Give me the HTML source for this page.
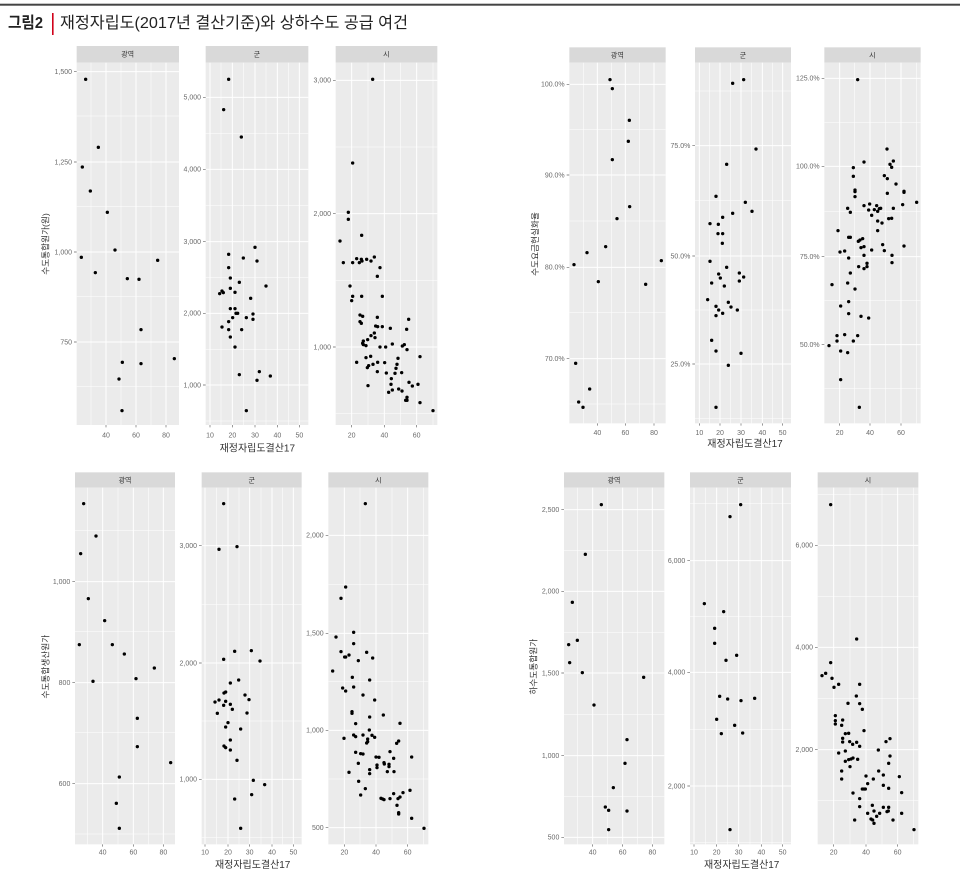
<!DOCTYPE html>
<html><head><meta charset="utf-8"><style>
html,body{margin:0;padding:0;background:#fff;}
svg{display:block;}
text{font-family:"Liberation Sans","Noto Sans CJK KR",sans-serif;}
.tl{font-size:21px;fill:#6a6a6a;text-anchor:end;}
.xl{font-size:21px;fill:#6a6a6a;text-anchor:middle;}
.st{font-size:21px;fill:#333;text-anchor:middle;}
.at{font-size:30px;fill:#333;text-anchor:middle;}
.yt{font-size:26px;fill:#333;text-anchor:middle;}
.mj{stroke:#fff;stroke-width:3;fill:none;}
.mn{stroke:#fff;stroke-width:1.6;fill:none;}
.tk{stroke:#666;stroke-width:2;fill:none;}
.sp{fill:#d9d9d9;}
.pn{fill:#ebebeb;}
</style></head><body>
<svg width="960" height="873" viewBox="0 0 960 873" xmlns="http://www.w3.org/2000/svg">
<rect x="0" y="0" width="960" height="873" fill="#fff"/>
<rect x="0" y="3.7" width="960" height="2" fill="#444"/>
<rect x="52" y="13" width="1.6" height="22" fill="#d0021b"/>
<text x="8" y="28" font-size="16" font-weight="bold" fill="#222" textLength="35" lengthAdjust="spacingAndGlyphs">그림2</text>
<text x="60" y="28" font-size="16" fill="#222" textLength="348" lengthAdjust="spacingAndGlyphs">재정자립도(2017년 결산기준)와 상하수도 공급 여건</text>

<!-- FIGURE A -->
<g transform="translate(30,40) scale(0.333333)">
<!-- A1 -->
<rect class="sp" x="140" y="18" width="307" height="50"/>
<text class="st" x="293" y="50">광역</text>
<rect class="pn" x="140" y="68" width="307" height="1087"/>
<path class="mn" d="M140 228H447M140 500H447M140 770H447M140 1040H447M183 68V1155M273 68V1155M363 68V1155"/>
<path class="mj" d="M140 95H447M140 366H447M140 636H447M140 906H447M228 68V1155M318 68V1155M408 68V1155"/>
<path class="tk" d="M132 95H140M132 366H140M132 636H140M132 906H140M228 1155V1162M318 1155V1162M408 1155V1162"/>
<text class="tl" x="126" y="102">1,500</text><text class="tl" x="126" y="373">1,250</text><text class="tl" x="126" y="643">1,000</text><text class="tl" x="126" y="913">750</text>
<text class="xl" x="228" y="1193">40</text><text class="xl" x="318" y="1193">60</text><text class="xl" x="408" y="1193">80</text>
<g fill="#000">
<circle cx="167" cy="118" r="5"/><circle cx="157" cy="381" r="5"/><circle cx="205" cy="322" r="5"/><circle cx="181" cy="453" r="5"/><circle cx="232" cy="517" r="5"/><circle cx="154" cy="652" r="5"/><circle cx="255" cy="630" r="5"/><circle cx="196" cy="698" r="5"/><circle cx="292" cy="716" r="5"/><circle cx="327" cy="718" r="5"/><circle cx="383" cy="661" r="5"/><circle cx="333" cy="869" r="5"/><circle cx="277" cy="967" r="5"/><circle cx="333" cy="971" r="5"/><circle cx="433" cy="956" r="5"/><circle cx="267" cy="1017" r="5"/><circle cx="276" cy="1112" r="5"/>
</g>
<!-- A2 -->
<rect class="sp" x="527" y="18" width="308" height="50"/>
<text class="st" x="681" y="50">군</text>
<rect class="pn" x="527" y="68" width="308" height="1087"/>
<path class="mn" d="M527 280H835M527 497H835M527 712H835M527 928H835M527 1143H835M573 68V1155M641 68V1155M708 68V1155M775 68V1155"/>
<path class="mj" d="M527 172H835M527 388H835M527 605H835M527 820H835M527 1035H835M540 68V1155M607 68V1155M675 68V1155M742 68V1155M808 68V1155"/>
<path class="tk" d="M519 172H527M519 388H527M519 605H527M519 820H527M519 1035H527M540 1155V1162M607 1155V1162M675 1155V1162M742 1155V1162M808 1155V1162"/>
<text class="tl" x="513" y="179">5,000</text><text class="tl" x="513" y="395">4,000</text><text class="tl" x="513" y="612">3,000</text><text class="tl" x="513" y="827">2,000</text><text class="tl" x="513" y="1042">1,000</text>
<text class="xl" x="540" y="1193">10</text><text class="xl" x="607" y="1193">20</text><text class="xl" x="675" y="1193">30</text><text class="xl" x="742" y="1193">40</text><text class="xl" x="808" y="1193">50</text>
<g fill="#000">
<circle cx="596" cy="118" r="5"/><circle cx="581" cy="209" r="5"/><circle cx="634" cy="291" r="5"/><circle cx="675" cy="622" r="5"/><circle cx="596" cy="643" r="5"/><circle cx="640" cy="654" r="5"/><circle cx="681" cy="663" r="5"/><circle cx="596" cy="683" r="5"/><circle cx="601" cy="714" r="5"/><circle cx="628" cy="727" r="5"/><circle cx="708" cy="738" r="5"/><circle cx="569" cy="761" r="5"/><circle cx="576" cy="753" r="5"/><circle cx="580" cy="758" r="5"/><circle cx="601" cy="745" r="5"/><circle cx="615" cy="757" r="5"/><circle cx="662" cy="775" r="5"/><circle cx="601" cy="806" r="5"/><circle cx="615" cy="806" r="5"/><circle cx="618" cy="820" r="5"/><circle cx="623" cy="820" r="5"/><circle cx="669" cy="822" r="5"/><circle cx="608" cy="833" r="5"/><circle cx="649" cy="833" r="5"/><circle cx="669" cy="838" r="5"/><circle cx="596" cy="845" r="5"/><circle cx="576" cy="861" r="5"/><circle cx="596" cy="869" r="5"/><circle cx="635" cy="869" r="5"/><circle cx="601" cy="891" r="5"/><circle cx="615" cy="921" r="5"/><circle cx="628" cy="1004" r="5"/><circle cx="688" cy="995" r="5"/><circle cx="681" cy="1021" r="5"/><circle cx="721" cy="1008" r="5"/><circle cx="649" cy="1112" r="5"/>
</g>
<!-- A3 -->
<rect class="sp" x="917" y="18" width="305" height="50"/>
<text class="st" x="1069" y="50">시</text>
<rect class="pn" x="917" y="68" width="305" height="1087"/>
<path class="mn" d="M917 321H1222M917 721H1222M917 1121H1222M1014 68V1155M1111 68V1155M1209 68V1155"/>
<path class="mj" d="M917 121H1222M917 521H1222M917 921H1222M965 68V1155M1063 68V1155M1160 68V1155"/>
<path class="tk" d="M909 121H917M909 521H917M909 921H917M965 1155V1162M1063 1155V1162M1160 1155V1162"/>
<text class="tl" x="903" y="128">3,000</text><text class="tl" x="903" y="528">2,000</text><text class="tl" x="903" y="928">1,000</text>
<text class="xl" x="965" y="1193">20</text><text class="xl" x="1063" y="1193">40</text><text class="xl" x="1160" y="1193">60</text>
<g fill="#000">
<circle cx="1028" cy="118" r="5"/><circle cx="968" cy="369" r="5"/><circle cx="955" cy="517" r="5"/><circle cx="955" cy="538" r="5"/><circle cx="995" cy="586" r="5"/><circle cx="930" cy="603" r="5"/><circle cx="940" cy="668" r="5"/><circle cx="968" cy="668" r="5"/><circle cx="980" cy="656" r="5"/><circle cx="988" cy="668" r="5"/><circle cx="996" cy="663" r="5"/><circle cx="994" cy="658" r="5"/><circle cx="1010" cy="658" r="5"/><circle cx="1023" cy="663" r="5"/><circle cx="1033" cy="651" r="5"/><circle cx="1050" cy="683" r="5"/><circle cx="1042" cy="709" r="5"/><circle cx="960" cy="738" r="5"/><circle cx="968" cy="769" r="5"/><circle cx="965" cy="782" r="5"/><circle cx="995" cy="769" r="5"/><circle cx="1057" cy="769" r="5"/><circle cx="990" cy="825" r="5"/><circle cx="998" cy="829" r="5"/><circle cx="990" cy="845" r="5"/><circle cx="994" cy="850" r="5"/><circle cx="1042" cy="832" r="5"/><circle cx="1037" cy="858" r="5"/><circle cx="1043" cy="860" r="5"/><circle cx="1057" cy="860" r="5"/><circle cx="1081" cy="865" r="5"/><circle cx="1136" cy="838" r="5"/><circle cx="1130" cy="868" r="5"/><circle cx="1033" cy="879" r="5"/><circle cx="1023" cy="887" r="5"/><circle cx="1013" cy="899" r="5"/><circle cx="1000" cy="903" r="5"/><circle cx="1000" cy="914" r="5"/><circle cx="998" cy="910" r="5"/><circle cx="1008" cy="917" r="5"/><circle cx="1035" cy="893" r="5"/><circle cx="1050" cy="921" r="5"/><circle cx="1067" cy="921" r="5"/><circle cx="1087" cy="912" r="5"/><circle cx="1117" cy="918" r="5"/><circle cx="1123" cy="914" r="5"/><circle cx="1131" cy="929" r="5"/><circle cx="1022" cy="949" r="5"/><circle cx="1008" cy="953" r="5"/><circle cx="980" cy="967" r="5"/><circle cx="1029" cy="973" r="5"/><circle cx="1016" cy="977" r="5"/><circle cx="1043" cy="967" r="5"/><circle cx="1064" cy="968" r="5"/><circle cx="1104" cy="955" r="5"/><circle cx="1101" cy="973" r="5"/><circle cx="1098" cy="985" r="5"/><circle cx="1115" cy="998" r="5"/><circle cx="1069" cy="999" r="5"/><circle cx="1042" cy="995" r="5"/><circle cx="1012" cy="983" r="5"/><circle cx="1170" cy="950" r="5"/><circle cx="1095" cy="1000" r="5"/><circle cx="1084" cy="1016" r="5"/><circle cx="1083" cy="1033" r="5"/><circle cx="1076" cy="1057" r="5"/><circle cx="1087" cy="1050" r="5"/><circle cx="1106" cy="1047" r="5"/><circle cx="1116" cy="1053" r="5"/><circle cx="1137" cy="1027" r="5"/><circle cx="1147" cy="1038" r="5"/><circle cx="1164" cy="1033" r="5"/><circle cx="1131" cy="1072" r="5"/><circle cx="1127" cy="1081" r="5"/><circle cx="1131" cy="1081" r="5"/><circle cx="1170" cy="1088" r="5"/><circle cx="1209" cy="1112" r="5"/><circle cx="1014" cy="1037" r="5"/>
</g>
<text class="at" x="682" y="1234">재정자립도결산17</text>
<text class="yt" transform="translate(55,612) rotate(-90)">수도통합원가(원)</text>
</g>

<!-- FIGURE B -->
<g transform="translate(500,40) scale(0.333333)">
<!-- B1 -->
<rect class="sp" x="208" y="22" width="289" height="46"/>
<text class="st" x="352" y="52">광역</text>
<rect class="pn" x="208" y="68" width="289" height="1082"/>
<path class="mn" d="M208 268H497M208 543H497M208 818H497M208 1092H497M250 68V1150M334 68V1150M419 68V1150"/>
<path class="mj" d="M208 133H497M208 405H497M208 682H497M208 956H497M292 68V1150M376 68V1150M462 68V1150"/>
<path class="tk" d="M200 133H208M200 405H208M200 682H208M200 956H208M292 1150V1157M376 1150V1157M462 1150V1157"/>
<text class="tl" x="194" y="140">100.0%</text><text class="tl" x="194" y="412">90.0%</text><text class="tl" x="194" y="689">80.0%</text><text class="tl" x="194" y="963">70.0%</text>
<text class="xl" x="292" y="1185">40</text><text class="xl" x="376" y="1185">60</text><text class="xl" x="462" y="1185">80</text>
<g fill="#000">
<circle cx="330" cy="119" r="5"/><circle cx="337" cy="146" r="5"/><circle cx="388" cy="241" r="5"/><circle cx="385" cy="304" r="5"/><circle cx="337" cy="359" r="5"/><circle cx="389" cy="500" r="5"/><circle cx="351" cy="536" r="5"/><circle cx="317" cy="620" r="5"/><circle cx="261" cy="638" r="5"/><circle cx="222" cy="674" r="5"/><circle cx="295" cy="725" r="5"/><circle cx="437" cy="733" r="5"/><circle cx="484" cy="662" r="5"/><circle cx="227" cy="970" r="5"/><circle cx="269" cy="1047" r="5"/><circle cx="236" cy="1086" r="5"/><circle cx="249" cy="1102" r="5"/>
</g>
<!-- B2 -->
<rect class="sp" x="585" y="22" width="288" height="46"/>
<text class="st" x="729" y="52">군</text>
<rect class="pn" x="585" y="68" width="288" height="1082"/>
<path class="mn" d="M585 153H873M585 482H873M585 810H873M585 1136H873M629 68V1150M692 68V1150M755 68V1150M818 68V1150"/>
<path class="mj" d="M585 317H873M585 648H873M585 972H873M598 68V1150M660 68V1150M723 68V1150M787 68V1150M848 68V1150"/>
<path class="tk" d="M577 317H585M577 648H585M577 972H585M598 1150V1157M660 1150V1157M723 1150V1157M787 1150V1157M848 1150V1157"/>
<text class="tl" x="571" y="324">75.0%</text><text class="tl" x="571" y="655">50.0%</text><text class="tl" x="571" y="979">25.0%</text>
<text class="xl" x="598" y="1185">10</text><text class="xl" x="660" y="1185">20</text><text class="xl" x="723" y="1185">30</text><text class="xl" x="787" y="1185">40</text><text class="xl" x="848" y="1185">50</text>
<g fill="#000">
<circle cx="698" cy="130" r="5"/><circle cx="731" cy="119" r="5"/><circle cx="768" cy="327" r="5"/><circle cx="680" cy="373" r="5"/><circle cx="648" cy="469" r="5"/><circle cx="736" cy="487" r="5"/><circle cx="756" cy="514" r="5"/><circle cx="698" cy="520" r="5"/><circle cx="668" cy="532" r="5"/><circle cx="630" cy="551" r="5"/><circle cx="655" cy="553" r="5"/><circle cx="654" cy="581" r="5"/><circle cx="668" cy="581" r="5"/><circle cx="667" cy="610" r="5"/><circle cx="630" cy="664" r="5"/><circle cx="680" cy="682" r="5"/><circle cx="718" cy="699" r="5"/><circle cx="656" cy="702" r="5"/><circle cx="731" cy="711" r="5"/><circle cx="661" cy="714" r="5"/><circle cx="718" cy="723" r="5"/><circle cx="635" cy="729" r="5"/><circle cx="673" cy="738" r="5"/><circle cx="623" cy="779" r="5"/><circle cx="685" cy="787" r="5"/><circle cx="693" cy="801" r="5"/><circle cx="648" cy="799" r="5"/><circle cx="656" cy="810" r="5"/><circle cx="712" cy="810" r="5"/><circle cx="648" cy="827" r="5"/><circle cx="668" cy="820" r="5"/><circle cx="635" cy="901" r="5"/><circle cx="648" cy="933" r="5"/><circle cx="723" cy="940" r="5"/><circle cx="685" cy="976" r="5"/><circle cx="648" cy="1102" r="5"/>
</g>
<!-- B3 -->
<rect class="sp" x="973" y="22" width="289" height="46"/>
<text class="st" x="1117" y="52">시</text>
<rect class="pn" x="973" y="68" width="289" height="1082"/>
<path class="mn" d="M973 247H1262M973 514H1262M973 782H1262M973 1046H1262M1064 68V1150M1156 68V1150M1249 68V1150"/>
<path class="mj" d="M973 115H1262M973 379H1262M973 650H1262M973 914H1262M1019 68V1150M1110 68V1150M1203 68V1150"/>
<path class="tk" d="M965 115H973M965 379H973M965 650H973M965 914H973M1019 1150V1157M1110 1150V1157M1203 1150V1157"/>
<text class="tl" x="959" y="122">125.0%</text><text class="tl" x="959" y="386">100.0%</text><text class="tl" x="959" y="657">75.0%</text><text class="tl" x="959" y="921">50.0%</text>
<text class="xl" x="1019" y="1185">20</text><text class="xl" x="1110" y="1185">40</text><text class="xl" x="1203" y="1185">60</text>
<g fill="#000">
<circle cx="1073" cy="119" r="5"/><circle cx="1161" cy="327" r="5"/><circle cx="1092" cy="366" r="5"/><circle cx="1180" cy="363" r="5"/><circle cx="1170" cy="373" r="5"/><circle cx="1175" cy="382" r="5"/><circle cx="1060" cy="383" r="5"/><circle cx="1060" cy="409" r="5"/><circle cx="1153" cy="407" r="5"/><circle cx="1162" cy="416" r="5"/><circle cx="1188" cy="432" r="5"/><circle cx="1065" cy="450" r="5"/><circle cx="1065" cy="455" r="5"/><circle cx="1065" cy="470" r="5"/><circle cx="1162" cy="460" r="5"/><circle cx="1212" cy="454" r="5"/><circle cx="1212" cy="457" r="5"/><circle cx="1208" cy="494" r="5"/><circle cx="1250" cy="487" r="5"/><circle cx="1043" cy="505" r="5"/><circle cx="1051" cy="517" r="5"/><circle cx="1092" cy="497" r="5"/><circle cx="1109" cy="492" r="5"/><circle cx="1106" cy="510" r="5"/><circle cx="1123" cy="509" r="5"/><circle cx="1130" cy="497" r="5"/><circle cx="1138" cy="506" r="5"/><circle cx="1142" cy="505" r="5"/><circle cx="1133" cy="514" r="5"/><circle cx="1115" cy="526" r="5"/><circle cx="1133" cy="543" r="5"/><circle cx="1146" cy="549" r="5"/><circle cx="1166" cy="536" r="5"/><circle cx="1175" cy="535" r="5"/><circle cx="1180" cy="505" r="5"/><circle cx="1014" cy="572" r="5"/><circle cx="1133" cy="572" r="5"/><circle cx="1046" cy="592" r="5"/><circle cx="1051" cy="592" r="5"/><circle cx="1075" cy="604" r="5"/><circle cx="1080" cy="600" r="5"/><circle cx="1088" cy="596" r="5"/><circle cx="1083" cy="623" r="5"/><circle cx="1092" cy="620" r="5"/><circle cx="1020" cy="636" r="5"/><circle cx="1034" cy="633" r="5"/><circle cx="1046" cy="654" r="5"/><circle cx="1092" cy="646" r="5"/><circle cx="1115" cy="630" r="5"/><circle cx="1148" cy="614" r="5"/><circle cx="1153" cy="632" r="5"/><circle cx="1176" cy="646" r="5"/><circle cx="1212" cy="618" r="5"/><circle cx="1176" cy="668" r="5"/><circle cx="1101" cy="670" r="5"/><circle cx="1101" cy="680" r="5"/><circle cx="1092" cy="686" r="5"/><circle cx="1076" cy="680" r="5"/><circle cx="1051" cy="699" r="5"/><circle cx="1043" cy="729" r="5"/><circle cx="1065" cy="747" r="5"/><circle cx="996" cy="734" r="5"/><circle cx="1046" cy="785" r="5"/><circle cx="1046" cy="821" r="5"/><circle cx="1022" cy="798" r="5"/><circle cx="1083" cy="829" r="5"/><circle cx="1106" cy="834" r="5"/><circle cx="1011" cy="887" r="5"/><circle cx="1011" cy="903" r="5"/><circle cx="1034" cy="884" r="5"/><circle cx="1073" cy="887" r="5"/><circle cx="1060" cy="903" r="5"/><circle cx="987" cy="917" r="5"/><circle cx="1022" cy="933" r="5"/><circle cx="1043" cy="938" r="5"/><circle cx="1022" cy="1019" r="5"/><circle cx="1078" cy="1102" r="5"/>
</g>
<text class="at" x="735" y="1221">재정자립도결산17</text>
<text class="yt" transform="translate(114,612) rotate(-90)">수도요금현실화율</text>
</g>

<!-- FIGURE C -->
<g transform="translate(30,465) scale(0.333333)">
<!-- C1 -->
<rect class="sp" x="135" y="22" width="300" height="46"/>
<text class="st" x="285" y="52">광역</text>
<rect class="pn" x="135" y="68" width="300" height="1070"/>
<path class="mn" d="M135 196H435M135 500H435M135 802H435M135 1107H435M173 68V1138M264 68V1138M355 68V1138"/>
<path class="mj" d="M135 350H435M135 653H435M135 956H435M218 68V1138M310 68V1138M400 68V1138"/>
<path class="tk" d="M127 350H135M127 653H135M127 956H135M218 1138V1145M310 1138V1145M400 1138V1145"/>
<text class="tl" x="121" y="357">1,000</text><text class="tl" x="121" y="660">800</text><text class="tl" x="121" y="963">600</text>
<text class="xl" x="218" y="1168">40</text><text class="xl" x="310" y="1168">60</text><text class="xl" x="400" y="1168">80</text>
<g fill="#000">
<circle cx="161" cy="116" r="5"/><circle cx="152" cy="266" r="5"/><circle cx="198" cy="213" r="5"/><circle cx="175" cy="401" r="5"/><circle cx="224" cy="467" r="5"/><circle cx="148" cy="539" r="5"/><circle cx="247" cy="539" r="5"/><circle cx="283" cy="567" r="5"/><circle cx="189" cy="649" r="5"/><circle cx="318" cy="641" r="5"/><circle cx="373" cy="609" r="5"/><circle cx="322" cy="760" r="5"/><circle cx="322" cy="845" r="5"/><circle cx="422" cy="893" r="5"/><circle cx="268" cy="936" r="5"/><circle cx="259" cy="1015" r="5"/><circle cx="268" cy="1090" r="5"/>
</g>
<!-- C2 -->
<rect class="sp" x="515" y="22" width="300" height="46"/>
<text class="st" x="665" y="52">군</text>
<rect class="pn" x="515" y="68" width="300" height="1070"/>
<path class="mn" d="M515 418H815M515 768H815M515 1118H815M560 68V1138M627 68V1138M693 68V1138M758 68V1138"/>
<path class="mj" d="M515 242H815M515 594H815M515 943H815M525 68V1138M594 68V1138M659 68V1138M726 68V1138M790 68V1138"/>
<path class="tk" d="M507 242H515M507 594H515M507 943H515M525 1138V1145M594 1138V1145M659 1138V1145M726 1138V1145M790 1138V1145"/>
<text class="tl" x="501" y="249">3,000</text><text class="tl" x="501" y="601">2,000</text><text class="tl" x="501" y="950">1,000</text>
<text class="xl" x="525" y="1168">10</text><text class="xl" x="594" y="1168">20</text><text class="xl" x="659" y="1168">30</text><text class="xl" x="726" y="1168">40</text><text class="xl" x="790" y="1168">50</text>
<g fill="#000">
<circle cx="581" cy="116" r="5"/><circle cx="567" cy="253" r="5"/><circle cx="621" cy="245" r="5"/><circle cx="614" cy="559" r="5"/><circle cx="664" cy="557" r="5"/><circle cx="581" cy="583" r="5"/><circle cx="690" cy="588" r="5"/><circle cx="626" cy="645" r="5"/><circle cx="601" cy="654" r="5"/><circle cx="582" cy="684" r="5"/><circle cx="587" cy="681" r="5"/><circle cx="645" cy="690" r="5"/><circle cx="657" cy="704" r="5"/><circle cx="555" cy="711" r="5"/><circle cx="567" cy="705" r="5"/><circle cx="587" cy="709" r="5"/><circle cx="581" cy="721" r="5"/><circle cx="601" cy="718" r="5"/><circle cx="607" cy="733" r="5"/><circle cx="562" cy="745" r="5"/><circle cx="651" cy="744" r="5"/><circle cx="594" cy="773" r="5"/><circle cx="587" cy="786" r="5"/><circle cx="632" cy="792" r="5"/><circle cx="601" cy="825" r="5"/><circle cx="582" cy="843" r="5"/><circle cx="587" cy="848" r="5"/><circle cx="601" cy="855" r="5"/><circle cx="621" cy="886" r="5"/><circle cx="670" cy="946" r="5"/><circle cx="704" cy="959" r="5"/><circle cx="614" cy="1002" r="5"/><circle cx="665" cy="989" r="5"/><circle cx="632" cy="1090" r="5"/>
</g>
<!-- C3 -->
<rect class="sp" x="895" y="22" width="300" height="46"/>
<text class="st" x="1045" y="52">시</text>
<rect class="pn" x="895" y="68" width="300" height="1070"/>
<path class="mn" d="M895 358H1195M895 650H1195M895 942H1195M990 68V1138M1086 68V1138M1181 68V1138"/>
<path class="mj" d="M895 211H1195M895 505H1195M895 796H1195M895 1088H1195M943 68V1138M1038 68V1138M1133 68V1138"/>
<path class="tk" d="M887 211H895M887 505H895M887 796H895M887 1088H895M943 1138V1145M1038 1138V1145M1133 1138V1145"/>
<text class="tl" x="881" y="218">2,000</text><text class="tl" x="881" y="512">1,500</text><text class="tl" x="881" y="803">1,000</text><text class="tl" x="881" y="1095">500</text>
<text class="xl" x="943" y="1168">20</text><text class="xl" x="1038" y="1168">40</text><text class="xl" x="1133" y="1168">60</text>
<g fill="#000">
<circle cx="1006" cy="116" r="5"/><circle cx="947" cy="366" r="5"/><circle cx="933" cy="400" r="5"/><circle cx="918" cy="516" r="5"/><circle cx="971" cy="502" r="5"/><circle cx="908" cy="618" r="5"/><circle cx="933" cy="560" r="5"/><circle cx="947" cy="576" r="5"/><circle cx="957" cy="570" r="5"/><circle cx="944" cy="576" r="5"/><circle cx="971" cy="536" r="5"/><circle cx="985" cy="587" r="5"/><circle cx="1010" cy="562" r="5"/><circle cx="1028" cy="579" r="5"/><circle cx="967" cy="637" r="5"/><circle cx="938" cy="669" r="5"/><circle cx="947" cy="678" r="5"/><circle cx="971" cy="666" r="5"/><circle cx="1019" cy="645" r="5"/><circle cx="999" cy="690" r="5"/><circle cx="1034" cy="705" r="5"/><circle cx="966" cy="740" r="5"/><circle cx="966" cy="745" r="5"/><circle cx="1060" cy="750" r="5"/><circle cx="1019" cy="756" r="5"/><circle cx="977" cy="776" r="5"/><circle cx="1110" cy="775" r="5"/><circle cx="971" cy="810" r="5"/><circle cx="977" cy="815" r="5"/><circle cx="1013" cy="822" r="5"/><circle cx="1026" cy="811" r="5"/><circle cx="1034" cy="817" r="5"/><circle cx="999" cy="810" r="5"/><circle cx="1018" cy="795" r="5"/><circle cx="1010" cy="834" r="5"/><circle cx="1013" cy="830" r="5"/><circle cx="942" cy="820" r="5"/><circle cx="1038" cy="876" r="5"/><circle cx="977" cy="862" r="5"/><circle cx="992" cy="866" r="5"/><circle cx="999" cy="867" r="5"/><circle cx="1047" cy="877" r="5"/><circle cx="1080" cy="860" r="5"/><circle cx="1091" cy="880" r="5"/><circle cx="1145" cy="876" r="5"/><circle cx="1100" cy="835" r="5"/><circle cx="1106" cy="828" r="5"/><circle cx="1041" cy="900" r="5"/><circle cx="1041" cy="908" r="5"/><circle cx="1062" cy="893" r="5"/><circle cx="1077" cy="898" r="5"/><circle cx="1077" cy="905" r="5"/><circle cx="1072" cy="920" r="5"/><circle cx="1092" cy="920" r="5"/><circle cx="957" cy="922" r="5"/><circle cx="985" cy="895" r="5"/><circle cx="1019" cy="914" r="5"/><circle cx="1019" cy="926" r="5"/><circle cx="1063" cy="897" r="5"/><circle cx="986" cy="949" r="5"/><circle cx="1006" cy="971" r="5"/><circle cx="992" cy="990" r="5"/><circle cx="1053" cy="1000" r="5"/><circle cx="1058" cy="1002" r="5"/><circle cx="1062" cy="1004" r="5"/><circle cx="1080" cy="1001" r="5"/><circle cx="1091" cy="986" r="5"/><circle cx="1101" cy="1021" r="5"/><circle cx="1104" cy="1001" r="5"/><circle cx="1110" cy="996" r="5"/><circle cx="1119" cy="983" r="5"/><circle cx="1140" cy="976" r="5"/><circle cx="1106" cy="1043" r="5"/><circle cx="1106" cy="1047" r="5"/><circle cx="1145" cy="1060" r="5"/><circle cx="1182" cy="1090" r="5"/>
</g>
<text class="at" x="668" y="1209">재정자립도결산17</text>
<text class="yt" transform="translate(55,605) rotate(-90)">수도통합생산원가</text>
</g>

<!-- FIGURE D -->
<g transform="translate(520,465) scale(0.333333)">
<!-- D1 -->
<rect class="sp" x="132" y="22" width="301" height="46"/>
<text class="st" x="282" y="52">광역</text>
<rect class="pn" x="132" y="68" width="301" height="1070"/>
<path class="mn" d="M132 256H433M132 502H433M132 748H433M132 995H433M173 68V1138M263 68V1138M352 68V1138"/>
<path class="mj" d="M132 134H433M132 379H433M132 624H433M132 872H433M132 1117H433M218 68V1138M308 68V1138M397 68V1138"/>
<path class="tk" d="M124 134H132M124 379H132M124 624H132M124 872H132M124 1117H132M218 1138V1145M308 1138V1145M397 1138V1145"/>
<text class="tl" x="118" y="141">2,500</text><text class="tl" x="118" y="386">2,000</text><text class="tl" x="118" y="631">1,500</text><text class="tl" x="118" y="879">1,000</text><text class="tl" x="118" y="1124">500</text>
<text class="xl" x="218" y="1168">40</text><text class="xl" x="308" y="1168">60</text><text class="xl" x="397" y="1168">80</text>
<g fill="#000">
<circle cx="244" cy="119" r="5"/><circle cx="196" cy="268" r="5"/><circle cx="157" cy="412" r="5"/><circle cx="146" cy="539" r="5"/><circle cx="172" cy="526" r="5"/><circle cx="149" cy="593" r="5"/><circle cx="187" cy="623" r="5"/><circle cx="371" cy="637" r="5"/><circle cx="222" cy="720" r="5"/><circle cx="321" cy="824" r="5"/><circle cx="315" cy="895" r="5"/><circle cx="280" cy="968" r="5"/><circle cx="256" cy="1026" r="5"/><circle cx="266" cy="1036" r="5"/><circle cx="321" cy="1038" r="5"/><circle cx="266" cy="1094" r="5"/>
</g>
<!-- D2 -->
<rect class="sp" x="510" y="22" width="303" height="46"/>
<text class="st" x="661" y="52">군</text>
<rect class="pn" x="510" y="68" width="303" height="1070"/>
<path class="mn" d="M510 115H813M510 455H813M510 793H813M510 1133H813M556 68V1138M623 68V1138M690 68V1138M756 68V1138"/>
<path class="mj" d="M510 287H813M510 622H813M510 963H813M522 68V1138M590 68V1138M656 68V1138M724 68V1138M788 68V1138"/>
<path class="tk" d="M502 287H510M502 622H510M502 963H510M522 1138V1145M590 1138V1145M656 1138V1145M724 1138V1145M788 1138V1145"/>
<text class="tl" x="496" y="294">6,000</text><text class="tl" x="496" y="629">4,000</text><text class="tl" x="496" y="970">2,000</text>
<text class="xl" x="522" y="1168">10</text><text class="xl" x="590" y="1168">20</text><text class="xl" x="656" y="1168">30</text><text class="xl" x="724" y="1168">40</text><text class="xl" x="788" y="1168">50</text>
<g fill="#000">
<circle cx="662" cy="119" r="5"/><circle cx="630" cy="155" r="5"/><circle cx="553" cy="416" r="5"/><circle cx="611" cy="440" r="5"/><circle cx="584" cy="490" r="5"/><circle cx="584" cy="535" r="5"/><circle cx="650" cy="571" r="5"/><circle cx="618" cy="586" r="5"/><circle cx="599" cy="694" r="5"/><circle cx="623" cy="702" r="5"/><circle cx="663" cy="707" r="5"/><circle cx="704" cy="700" r="5"/><circle cx="590" cy="763" r="5"/><circle cx="644" cy="781" r="5"/><circle cx="604" cy="806" r="5"/><circle cx="668" cy="804" r="5"/><circle cx="630" cy="1094" r="5"/>
</g>
<!-- D3 -->
<rect class="sp" x="893" y="22" width="302" height="46"/>
<text class="st" x="1044" y="52">시</text>
<rect class="pn" x="893" y="68" width="302" height="1070"/>
<path class="mn" d="M893 88H1195M893 394H1195M893 700H1195M893 1007H1195M990 68V1138M1086 68V1138M1181 68V1138"/>
<path class="mj" d="M893 241H1195M893 547H1195M893 854H1195M941 68V1138M1038 68V1138M1133 68V1138"/>
<path class="tk" d="M885 241H893M885 547H893M885 854H893M941 1138V1145M1038 1138V1145M1133 1138V1145"/>
<text class="tl" x="879" y="248">6,000</text><text class="tl" x="879" y="554">4,000</text><text class="tl" x="879" y="861">2,000</text>
<text class="xl" x="941" y="1168">20</text><text class="xl" x="1038" y="1168">40</text><text class="xl" x="1133" y="1168">60</text>
<g fill="#000">
<circle cx="932" cy="119" r="5"/><circle cx="1010" cy="522" r="5"/><circle cx="932" cy="593" r="5"/><circle cx="906" cy="632" r="5"/><circle cx="917" cy="625" r="5"/><circle cx="936" cy="640" r="5"/><circle cx="942" cy="667" r="5"/><circle cx="956" cy="658" r="5"/><circle cx="1019" cy="658" r="5"/><circle cx="1009" cy="693" r="5"/><circle cx="984" cy="715" r="5"/><circle cx="1019" cy="716" r="5"/><circle cx="1027" cy="733" r="5"/><circle cx="946" cy="752" r="5"/><circle cx="968" cy="765" r="5"/><circle cx="946" cy="767" r="5"/><circle cx="946" cy="777" r="5"/><circle cx="965" cy="781" r="5"/><circle cx="1032" cy="797" r="5"/><circle cx="976" cy="806" r="5"/><circle cx="986" cy="805" r="5"/><circle cx="968" cy="820" r="5"/><circle cx="968" cy="831" r="5"/><circle cx="989" cy="830" r="5"/><circle cx="998" cy="838" r="5"/><circle cx="1010" cy="832" r="5"/><circle cx="1019" cy="844" r="5"/><circle cx="1075" cy="855" r="5"/><circle cx="1110" cy="821" r="5"/><circle cx="1098" cy="830" r="5"/><circle cx="976" cy="858" r="5"/><circle cx="956" cy="864" r="5"/><circle cx="976" cy="889" r="5"/><circle cx="986" cy="884" r="5"/><circle cx="993" cy="882" r="5"/><circle cx="999" cy="879" r="5"/><circle cx="990" cy="905" r="5"/><circle cx="965" cy="918" r="5"/><circle cx="1013" cy="883" r="5"/><circle cx="965" cy="942" r="5"/><circle cx="1038" cy="933" r="5"/><circle cx="1060" cy="942" r="5"/><circle cx="1076" cy="918" r="5"/><circle cx="1090" cy="930" r="5"/><circle cx="1043" cy="956" r="5"/><circle cx="1110" cy="873" r="5"/><circle cx="1106" cy="895" r="5"/><circle cx="1138" cy="935" r="5"/><circle cx="1145" cy="983" r="5"/><circle cx="1090" cy="961" r="5"/><circle cx="1106" cy="970" r="5"/><circle cx="1027" cy="972" r="5"/><circle cx="1032" cy="972" r="5"/><circle cx="1036" cy="972" r="5"/><circle cx="999" cy="984" r="5"/><circle cx="1019" cy="1001" r="5"/><circle cx="1019" cy="1025" r="5"/><circle cx="1043" cy="1045" r="5"/><circle cx="1057" cy="1021" r="5"/><circle cx="1062" cy="1038" r="5"/><circle cx="1079" cy="1045" r="5"/><circle cx="1070" cy="1054" r="5"/><circle cx="1058" cy="1065" r="5"/><circle cx="1053" cy="1062" r="5"/><circle cx="1062" cy="1075" r="5"/><circle cx="1090" cy="1027" r="5"/><circle cx="1101" cy="1040" r="5"/><circle cx="1106" cy="1027" r="5"/><circle cx="1105" cy="1038" r="5"/><circle cx="1119" cy="1065" r="5"/><circle cx="1145" cy="1045" r="5"/><circle cx="1004" cy="1065" r="5"/><circle cx="1182" cy="1094" r="5"/>
</g>
<text class="at" x="665" y="1209">재정자립도결산17</text>
<text class="yt" transform="translate(50,605) rotate(-90)">하수도통합원가</text>
</g>
</svg>
</body></html>
